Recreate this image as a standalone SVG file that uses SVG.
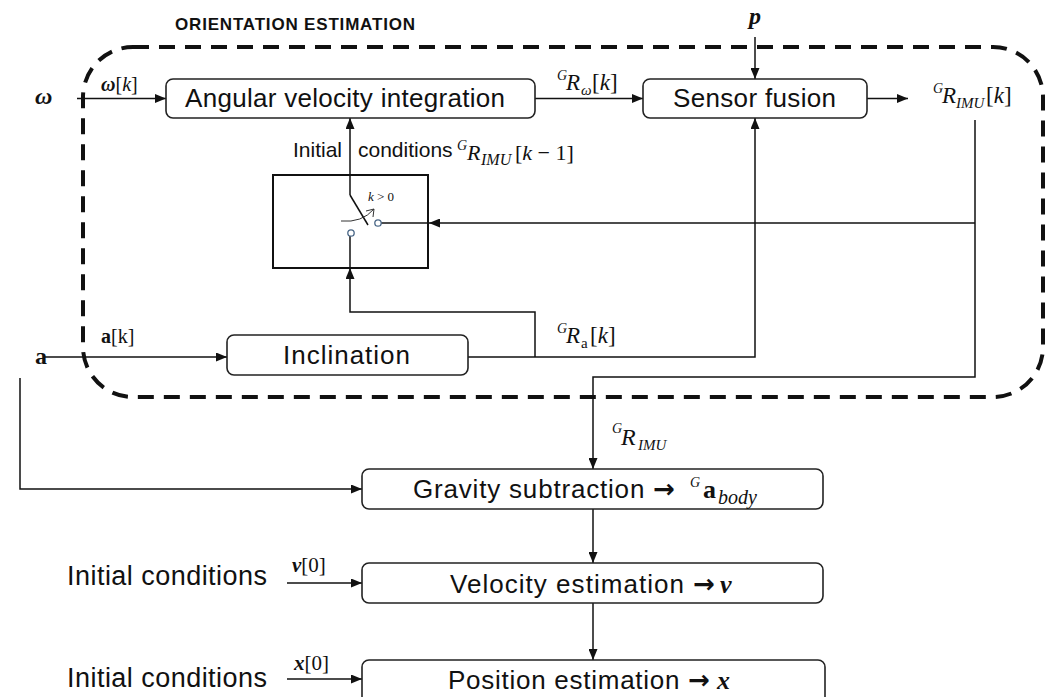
<svg xmlns="http://www.w3.org/2000/svg" width="1046" height="697" viewBox="0 0 1046 697">
<style>
.box{fill:#fff;stroke:#222;stroke-width:1.6}
.lbl{font-family:"Liberation Sans",Arial,sans-serif;font-size:26px;fill:#111}
.arr{font-family:"DejaVu Sans",sans-serif;font-weight:bold}
.m{font-family:"Liberation Serif","Times New Roman",serif;font-style:italic;fill:#111}
.up{font-style:normal}
.b{font-weight:bold}
.c{fill:none;stroke:#111;stroke-width:1.5}
</style>
<defs>
<marker id="ah" markerUnits="userSpaceOnUse" markerWidth="11" markerHeight="9" refX="11" refY="4.5" orient="auto">
<path d="M0,0 L11,4.5 L0,9 z" fill="#111"/>
</marker>
</defs>
<rect width="1046" height="697" fill="#fff"/>

<g id="orientation-group">
<rect x="83" y="47" width="960" height="350" rx="50" fill="none" stroke="#111" stroke-width="4" stroke-dasharray="16 10"/>
<text x="175" y="30" font-family="'Liberation Sans',Arial,sans-serif" font-weight="bold" font-size="17" textLength="240" fill="#111">ORIENTATION ESTIMATION</text>
</g>

<g id="connectors">
<line class="c" x1="77" y1="98.5" x2="166" y2="98.5" marker-end="url(#ah)"/>
<line class="c" x1="535" y1="98.5" x2="643" y2="98.5" marker-end="url(#ah)"/>
<line class="c" x1="867" y1="98.5" x2="908" y2="98.5" marker-end="url(#ah)"/>
<line class="c" x1="755" y1="37" x2="755" y2="79" marker-end="url(#ah)"/>
<polyline class="c" points="975,120 975,377 593,377 593,469" marker-end="url(#ah)"/>
<line class="c" x1="975" y1="223" x2="429" y2="223" marker-end="url(#ah)"/>
<line class="c" x1="429" y1="223" x2="381" y2="223"/>
<polyline class="c" points="350,195 350,118" marker-end="url(#ah)"/>
<line class="c" x1="350" y1="195" x2="368" y2="225"/>
<polyline class="c" points="535,357 535,312 350,312 350,268" marker-end="url(#ah)"/>
<line class="c" x1="350" y1="268" x2="350" y2="236"/>
<line class="c" x1="43" y1="357" x2="227" y2="357" marker-end="url(#ah)"/>
<polyline class="c" points="468,357 755,357 755,118" marker-end="url(#ah)"/>
<polyline class="c" points="20,378 20,489 362,489" marker-end="url(#ah)"/>
<line class="c" x1="593" y1="509" x2="593" y2="563" marker-end="url(#ah)"/>
<line class="c" x1="593" y1="603" x2="593" y2="660" marker-end="url(#ah)"/>
<line class="c" x1="287" y1="583" x2="362" y2="583" marker-end="url(#ah)"/>
<line class="c" x1="287" y1="679" x2="362" y2="679" marker-end="url(#ah)"/>
</g>

<g id="inputs">
<text x="35" y="104" class="m b" font-size="24">ω</text>
<text x="35" y="364" class="m up b" font-size="24">a</text>
<text x="755" y="24" class="m b" font-size="24" text-anchor="middle">p</text>
<text x="101" y="91" class="m" font-size="20"><tspan class="b">ω</tspan><tspan class="up">[</tspan>k<tspan class="up">]</tspan></text>
<text x="101" y="343" class="m up" font-size="20"><tspan class="b">a</tspan>[k]</text>
</g>

<g id="angular-velocity-integration">
<rect class="box" x="166" y="79" width="369" height="39" rx="7"/>
<text class="lbl" x="185" y="107" textLength="320">Angular velocity integration</text>
</g>

<g id="sensor-fusion">
<rect class="box" x="643" y="79" width="224" height="39" rx="7"/>
<text class="lbl" x="673" y="107" textLength="163">Sensor fusion</text>
</g>

<g id="label-Rw">
<text class="m"><tspan x="557" y="80" font-size="14">G</tspan><tspan x="566" y="90" font-size="23">R</tspan><tspan x="581" y="95" font-size="15">ω</tspan><tspan x="592" y="90" font-size="23"><tspan class="up">[</tspan>k<tspan class="up">]</tspan></tspan></text>
</g>

<g id="label-RIMUk">
<text class="m"><tspan x="933" y="93" font-size="14">G</tspan><tspan x="942" y="103" font-size="23">R</tspan><tspan x="956" y="108" font-size="15">IMU</tspan><tspan x="986" y="103" font-size="23"><tspan class="up">[</tspan>k<tspan class="up">]</tspan></tspan></text>
</g>

<g id="initial-conditions-switch">
<text class="lbl" x="293" y="157" style="font-size:21px">Initial</text>
<text class="lbl" x="358" y="157" style="font-size:21px">conditions</text>
<text class="m"><tspan x="457" y="150" font-size="14">G</tspan><tspan x="467" y="160" font-size="22">R</tspan><tspan x="481" y="165" font-size="16">IMU</tspan><tspan x="515" y="160" font-size="22"><tspan class="up">[</tspan>k<tspan class="up"> − 1]</tspan></tspan></text>
<rect x="273" y="175" width="155" height="93" fill="none" stroke="#111" stroke-width="2"/>
<circle cx="378" cy="223" r="3.2" fill="#fff" stroke="#4a6787" stroke-width="1.3"/>
<circle cx="351" cy="233" r="3.2" fill="#fff" stroke="#4a6787" stroke-width="1.3"/>
<path d="M341,221 Q362,223 374,209" fill="none" stroke="#333" stroke-width="1"/>
<path d="M366,211 L374,209 L373,217" fill="none" stroke="#333" stroke-width="1"/>
<text x="368" y="201" class="m" font-size="13">k <tspan class="up">&gt; 0</tspan></text>
</g>

<g id="inclination">
<rect class="box" x="227" y="335" width="241" height="40" rx="7"/>
<text class="lbl" x="283" y="364" textLength="127">Inclination</text>
</g>

<g id="label-Ra">
<text class="m"><tspan x="557" y="333" font-size="14">G</tspan><tspan x="566" y="343" font-size="23">R</tspan><tspan x="581" y="348" font-size="15" class="up">a</tspan><tspan x="590" y="343" font-size="23"><tspan class="up">[</tspan>k<tspan class="up">]</tspan></tspan></text>
</g>

<g id="label-RIMU">
<text class="m"><tspan x="612" y="433" font-size="14">G</tspan><tspan x="621" y="445" font-size="24">R</tspan><tspan x="638" y="450" font-size="15">IMU</tspan></text>
</g>

<g id="gravity-subtraction">
<rect class="box" x="362" y="469" width="461" height="40" rx="7"/>
<text class="lbl" x="413" y="498" textLength="262">Gravity subtraction <tspan class="arr">→</tspan></text>
<text class="m"><tspan x="690" y="487" font-size="14">G</tspan><tspan x="703" y="498" font-size="26" class="up b">a</tspan><tspan x="718" y="504" font-size="20">body</tspan></text>
</g>

<g id="velocity-estimation">
<rect class="box" x="362" y="563" width="461" height="40" rx="7"/>
<text class="lbl" x="450" y="593" textLength="265">Velocity estimation <tspan class="arr">→</tspan></text>
<text x="720" y="593" class="m b" font-size="26">v</text>
</g>

<g id="position-estimation">
<rect class="box" x="362" y="660" width="463" height="48" rx="7"/>
<text class="lbl" x="448" y="689" textLength="262">Position estimation <tspan class="arr">→</tspan></text>
<text x="717" y="689" class="m b" font-size="26">x</text>
</g>

<g id="initial-conditions">
<text class="lbl" x="67" y="585" style="font-size:27px" textLength="200">Initial conditions</text>
<text class="lbl" x="67" y="687" style="font-size:27px" textLength="200">Initial conditions</text>
<text x="292" y="572" class="m" font-size="21"><tspan class="b">v</tspan><tspan class="up">[0]</tspan></text>
<text x="294" y="670" class="m" font-size="21"><tspan class="b">x</tspan><tspan class="up">[0]</tspan></text>
</g>
</svg>
